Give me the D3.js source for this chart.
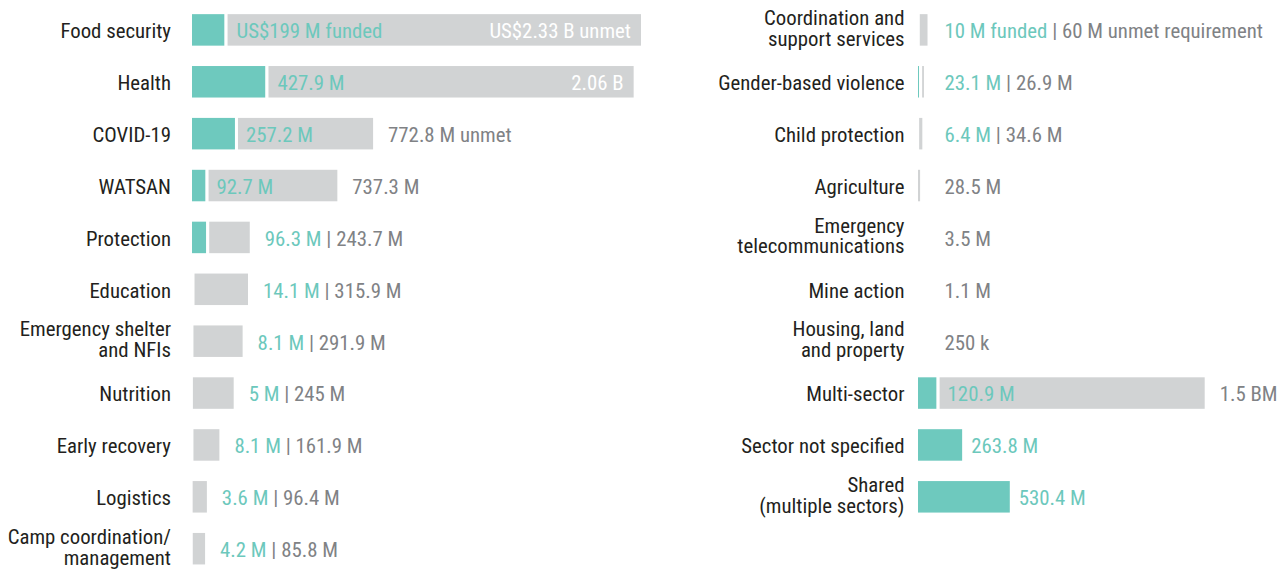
<!DOCTYPE html>
<html>
<head>
<meta charset="utf-8">
<script src="https://cdn.jsdelivr.net/npm/d3@7"></script>
<style>
  html, body { margin: 0; padding: 0; background: #ffffff; }
  svg { display: block; }
  text { font-family: "Roboto Condensed", "Liberation Sans Narrow", "DejaVu Sans Condensed", sans-serif; }
</style>
</head>
<body>
<svg id="chart" width="1281" height="571"></svg>
<script>
// ---- Data (US$ millions) ----
const leftCategories = ["Food security", "Health", "COVID-19", "WATSAN", "Protection", "Education",
  "Emergency shelter\nand NFIs", "Nutrition", "Early recovery", "Logistics", "Camp coordination/\nmanagement"];
const leftFunded = [199, 427.9, 257.2, 92.7, 96.3, 14.1, 8.1, 5, 8.1, 3.6, 4.2];
const leftUnmet = [2330, 2060, 772.8, 737.3, 243.7, 315.9, 291.9, 245, 161.9, 96.4, 85.8];
const leftFundedLabels = ["US$199 M funded", "427.9 M", "257.2 M", "92.7 M", "96.3 M", "14.1 M", "8.1 M", "5 M", "8.1 M", "3.6 M", "4.2 M"];
const leftUnmetLabels = ["US$2.33 B unmet", "2.06 B", "772.8 M unmet", "737.3 M", "243.7 M", "315.9 M", "291.9 M", "245 M", "161.9 M", "96.4 M", "85.8 M"];

const rightCategories = ["Coordination and\nsupport services", "Gender-based violence", "Child protection", "Agriculture",
  "Emergency\ntelecommunications", "Mine action", "Housing, land\nand property", "Multi-sector",
  "Sector not specified", "Shared\n(multiple sectors)"];
const rightFunded = [10, 23.1, 6.4, 0, 0, 0, 0, 120.9, 263.8, 530.4];
const rightUnmet = [60, 26.9, 34.6, 28.5, 3.5, 1.1, 0.25, 1500, 0, 0];
const rightFundedLabels = ["10 M funded", "23.1 M", "6.4 M", "", "", "", "", "120.9 M", "263.8 M", "530.4 M"];
const rightUnmetLabels = ["60 M unmet requirement", "26.9 M", "34.6 M", "28.5 M", "3.5 M", "1.1 M", "250 k", "1.5 BM", "", ""];

// ---- Styles ----
const TEAL = "#6ec9be";
const TEAL_TEXT = "#6cc8bc";
const GREY_BAR = "#d1d3d4";
const GREY_TEXT = "#808285";
const DARK = "#231f20";
const FS = 20.8;
const STROKE = 3;
const BASE_DY = 8.4;

const svg = d3.select("#chart");

// one shared value scale for both panels
const x = d3.scaleLinear().domain([0, 2529]).range([0, 452]);

const rowStep = 51.88;
const firstCenter = 29.9;

function panel(cfg) {
  const n = cfg.categories.length;
  const y = d3.scalePoint()
    .domain(d3.range(n))
    .range([firstCenter, firstCenter + rowStep * (n - 1)]);
  const barH = 31.5 + STROKE;
  const g = svg.append("g");
  const x0 = cfg.x0;

  const rows = d3.range(n).map(i => ({
    i,
    cat: cfg.categories[i],
    f: cfg.funded[i],
    u: cfg.unmet[i],
    fl: cfg.fundedLabels[i],
    ul: cfg.unmetLabels[i]
  }));

  // category labels
  rows.forEach(d => {
    const lines = d.cat.split("\n");
    const t = g.append("text")
      .attr("x", cfg.labelX)
      .attr("y", y(d.i))
      .attr("text-anchor", "end")
      .attr("font-size", FS)
      .attr("fill", DARK);
    const lh = 20.6;
    lines.forEach((ln, k) => {
      t.append("tspan")
        .attr("x", cfg.labelX)
        .attr("dy", k === 0 ? (lines.length > 1 ? (-(lines.length - 1) * lh / 2 + 5.6) : BASE_DY) : lh)
        .text(ln);
    });
  });

  // funded bars
  g.selectAll("rect.funded").data(rows.filter(d => d.f > 0)).join("rect")
    .attr("class", "funded")
    .attr("x", d => x0)
    .attr("y", d => y(d.i) - barH / 2)
    .attr("width", d => x(d.f))
    .attr("height", barH)
    .attr("fill", TEAL)
    .attr("stroke", "#ffffff")
    .attr("stroke-width", STROKE);

  // unmet bars
  g.selectAll("rect.unmet").data(rows.filter(d => d.u > 0)).join("rect")
    .attr("class", "unmet")
    .attr("x", d => x0 + x(d.f))
    .attr("y", d => y(d.i) - barH / 2)
    .attr("width", d => x(d.u))
    .attr("height", barH)
    .attr("fill", GREY_BAR)
    .attr("stroke", "#ffffff")
    .attr("stroke-width", STROKE);

  // value labels
  rows.forEach(d => {
    const unmetStart = x0 + x(d.f) + STROKE / 2;
    const end = x0 + x(d.f) + x(d.u) - STROKE / 2;
    const uw = x(d.u);
    const ty = y(d.i);
    const base = (tx, anchor) => g.append("text")
      .attr("x", tx).attr("y", ty).attr("dy", BASE_DY)
      .attr("text-anchor", anchor)
      .attr("font-size", FS);

    if (uw > 300) {
      base(unmetStart + 9, "start").attr("fill", TEAL_TEXT).text(d.fl);
      base(end - 10, "end").attr("fill", "#ffffff").text(d.ul);
    } else if (uw > 100) {
      base(unmetStart + 8, "start").attr("fill", TEAL_TEXT).text(d.fl);
      base(end + 15, "start").attr("fill", GREY_TEXT).text(d.ul);
    } else if (d.u <= 0) {
      base(Math.max(end + 9, x0 + 28), "start").attr("fill", TEAL_TEXT).text(d.fl);
    } else {
      const t = base(Math.max(end + 15, x0 + 28), "start");
      if (d.fl) {
        t.append("tspan").attr("fill", TEAL_TEXT).text(d.fl);
        t.append("tspan").attr("fill", GREY_TEXT).text(" | ");
      }
      t.append("tspan").attr("fill", GREY_TEXT).text(d.ul);
    }
  });
}

panel({
  categories: leftCategories, funded: leftFunded, unmet: leftUnmet,
  fundedLabels: leftFundedLabels, unmetLabels: leftUnmetLabels,
  x0: 190.5, labelX: 171
});

panel({
  categories: rightCategories, funded: rightFunded, unmet: rightUnmet,
  fundedLabels: rightFundedLabels, unmetLabels: rightUnmetLabels,
  x0: 916.5, labelX: 904.5
});
</script>
</body>
</html>
